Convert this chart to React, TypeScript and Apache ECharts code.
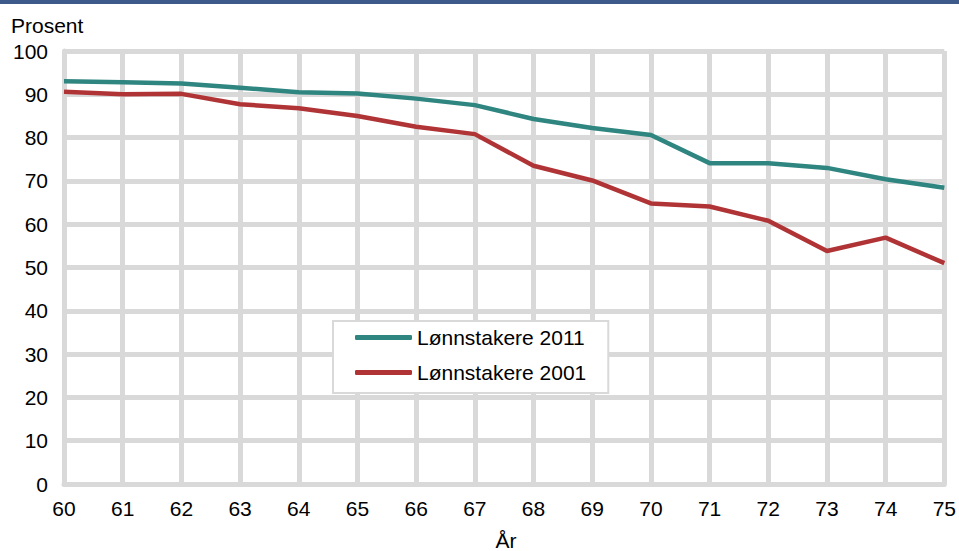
import React, { useEffect, useRef } from "react";
import * as echarts from "echarts";

const ages = ["60", "61", "62", "63", "64", "65", "66", "67", "68", "69", "70", "71", "72", "73", "74", "75"];
const series2011 = [93.0, 92.8, 92.5, 91.5, 90.5, 90.2, 89.0, 87.5, 84.3, 82.2, 80.6, 74.1, 74.1, 73.0, 70.4, 68.4];
const series2001 = [90.6, 90.0, 90.1, 87.7, 86.8, 85.0, 82.5, 80.8, 73.5, 70.1, 64.8, 64.1, 60.8, 53.8, 56.9, 51.0];
const seriesNames = ["Lønnstakere 2011", "Lønnstakere 2001"];
const colors = ["#2f8580", "#b03436"];

const FONT = "'Liberation Sans', Arial, sans-serif";
const GRID = "#d9d9d9";
const FS = 21;

export default function App() {
  const ref = useRef<HTMLDivElement>(null);
  useEffect(() => {
    if (!ref.current) return;
    const chart = echarts.init(ref.current, null, { renderer: "svg" });
    chart.setOption({
      animation: false,
      backgroundColor: "#ffffff",
      textStyle: { fontFamily: FONT },
      grid: { left: 64, right: 13, top: 51, bottom: 67, containLabel: false },
      graphic: [
        { type: "rect", left: 0, top: 0, shape: { width: 959, height: 4 }, style: { fill: "#3d5a8a" } },
        { type: "text", left: 11, top: 15, style: { text: "Prosent", fontSize: FS, fontFamily: FONT, fill: "#000" } },
        { type: "text", x: 506, y: 540, style: { text: "År", fontSize: FS, fontFamily: FONT, fill: "#000", align: "center", verticalAlign: "middle" } },
      ],
      legend: {
        orient: "vertical",
        left: 333,
        top: 321,
        data: seriesNames,
        itemWidth: 57,
        itemHeight: 5,
        itemGap: 14,
        icon: "roundRect",
        padding: [6, 22, 10, 22],
        backgroundColor: "#ffffff",
        borderColor: GRID,
        borderWidth: 2,
        textStyle: { fontSize: FS, fontFamily: FONT, color: "#000", lineHeight: 21 },
      },
      xAxis: {
        type: "category",
        data: ages,
        boundaryGap: false,
        axisLine: { show: true, lineStyle: { color: GRID, width: 5 } },
        axisTick: { show: false },
        axisLabel: { fontSize: FS, color: "#000", margin: 14, fontFamily: FONT },
        splitLine: { show: true, lineStyle: { color: GRID, width: 5 } },
      },
      yAxis: {
        type: "value",
        min: 0,
        max: 100,
        interval: 10,
        axisLine: { show: true, lineStyle: { color: GRID, width: 5 } },
        axisTick: { show: false },
        axisLabel: { fontSize: FS, color: "#000", margin: 16, fontFamily: FONT },
        splitLine: { show: true, lineStyle: { color: GRID, width: 5 } },
      },
      series: [
        {
          name: seriesNames[0],
          type: "line",
          data: series2011,
          symbol: "none",
          color: colors[0],
          lineStyle: { color: colors[0], width: 4.5 },
        },
        {
          name: seriesNames[1],
          type: "line",
          data: series2001,
          symbol: "none",
          color: colors[1],
          lineStyle: { color: colors[1], width: 4.5 },
        },
      ],
    });
    return () => chart.dispose();
  }, []);
  return <div ref={ref} style={{ width: 959, height: 551, position: "absolute", left: 0, top: 0 }} />;
}
